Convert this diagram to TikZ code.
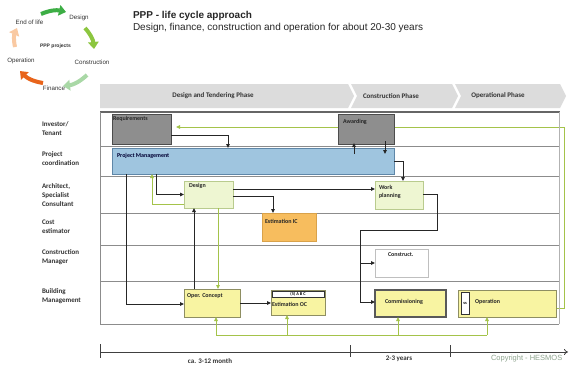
\documentclass[tikz,border=0pt]{standalone}
\usepackage{fontspec}
\setmainfont{Carlito}
\newfontfamily\arialf{Liberation Sans}
\usetikzlibrary{arrows.meta,backgrounds}
\definecolor{grn}{HTML}{A4C34A}
\definecolor{lanegray}{HTML}{8C8C8C}
\definecolor{boxgray}{HTML}{8E8E8E}
\definecolor{pmfill}{HTML}{9FC5DF}
\definecolor{pmborder}{HTML}{5F87A8}
\definecolor{palefill}{HTML}{EEF6D2}
\definecolor{paleborder}{HTML}{B9CB8E}
\definecolor{orfill}{HTML}{F7BD5E}
\definecolor{orborder}{HTML}{D9A24A}
\definecolor{yelfill}{HTML}{F8F4A2}
\definecolor{yelborder}{HTML}{8E8E62}
\definecolor{bannerfill}{HTML}{DCDCDC}
\definecolor{cgreen}{HTML}{3DAE45}
\definecolor{clight}{HTML}{8CC63F}
\definecolor{cpale}{HTML}{A9D8A6}
\definecolor{corange}{HTML}{E8641B}
\definecolor{cpeach}{HTML}{F9C9A2}
\definecolor{copyc}{HTML}{8FA58F}
\begin{document}
\begin{tikzpicture}[x=1pt,y=-1pt,
  every node/.style={inner sep=0pt, outer sep=0pt},
  lane/.style={draw=lanegray, line width=1pt},
  grayb/.style={draw=black!70, fill=boxgray, line width=0.9pt},
  blueb/.style={draw=pmborder, fill=pmfill, line width=0.9pt},
  paleb/.style={draw=paleborder, fill=palefill, line width=0.8pt},
  orb/.style={draw=orborder, fill=orfill, line width=0.8pt},
  yelb/.style={draw=yelborder, fill=yelfill, line width=0.9pt},
  whiteb/.style={draw=black!25, fill=white, line width=0.9pt},
  btxt/.style={font=\bfseries\fontsize{6}{7.5}\selectfont, anchor=west, align=left, text=black!85},
  rowlbl/.style={font=\bfseries\fontsize{7}{9}\selectfont, anchor=west, align=left, text=black!80},
  phtxt/.style={font=\bfseries\fontsize{7}{8}\selectfont, text=black!80},
  cyctxt/.style={font=\arialf\fontsize{6.2}{7}\selectfont, text=black!80},
  blkl/.style={draw=black!85, line width=1pt},
  blk/.style={blkl, -{Triangle[length=4pt,width=3.6pt]}},
  gln/.style={draw=grn, line width=1pt},
  gar/.style={gln, -{Triangle[length=4pt,width=3.6pt]}},
  cyc/.style={line width=4pt, -{Triangle[length=7pt,width=10.5pt]}, bend left=18}
]
\useasboundingbox (0,0) rectangle (569,365);
\begin{scope}[on background layer]
\fill[white] (0,0) rectangle (569,365);
\end{scope}

% ---------- life cycle ----------
\node[cyctxt] (eol) at (29.5,22.5) {End of life};
\node[cyctxt] (cdes) at (79,18) {Design};
\node[cyctxt] (ccon) at (92,62) {Construction};
\node[cyctxt] (cfin) at (54,88) {Finance};
\node[cyctxt] (cop) at (21,61) {Operation};
\node[font=\arialf\bfseries\fontsize{5}{6}\selectfont, text=black!80] (cppp) at (55.5,46) {PPP projects};
\coordinate (a1) at (41,14); \coordinate (a2) at (66,12);
\coordinate (b1) at (85,28); \coordinate (b2) at (94,49);
\coordinate (c1) at (87,75); \coordinate (c2) at (63,86);
\coordinate (d1) at (43,83); \coordinate (d2) at (20,71);
\coordinate (e1) at (15,47); \coordinate (e2) at (17,28);
\draw[cyc, draw=cgreen, fill=cgreen] (a1) to (a2);
\draw[cyc, draw=clight, fill=clight] (b1) to (b2);
\draw[cyc, draw=cpale, fill=cpale] (c1) to (c2);
\draw[cyc, draw=corange, fill=corange] (d1) to (d2);
\draw[cyc, draw=cpeach, fill=cpeach] (e1) to (e2);

% ---------- title ----------
\node[font=\arialf\bfseries\fontsize{10}{12}\selectfont, anchor=west, text=black!85] (title) at (133,16) {PPP - life cycle approach};
\node[font=\arialf\fontsize{10}{12}\selectfont, anchor=west, text=black!85] (subtitle) at (133,28) {Design, finance, construction and operation for about 20-30 years};

% ---------- phase banner ----------
\fill[bannerfill] (100,84) -- (348,84) -- (354,96) -- (348,108) -- (100,108) -- cycle;
\fill[bannerfill] (351,84) -- (452,84) -- (458,96) -- (452,108) -- (351,108) -- (357,96) -- cycle;
\fill[bannerfill] (455,84) -- (560,84) -- (566,96) -- (560,108) -- (455,108) -- (461,96) -- cycle;
\node[phtxt] (ph1) at (213,96) {Design and Tendering Phase};
\node[phtxt] (ph2) at (391,96) {Construction Phase};
\node[phtxt] (ph3) at (498,96) {Operational Phase};

% ---------- swimlanes ----------
\draw[draw=black!60, line width=1.5pt] (100,112) -- (560,112);
\foreach \yy in {146,176,213,245,281,324} \draw[lane] (100,\yy) -- (559,\yy);
\draw[lane] (100,112) -- (100,324);
\draw[draw=black!30, line width=0.8pt] (559,112) -- (559,324);

\node[rowlbl] (r1) at (42,129) {Investor/\\Tenant};
\node[rowlbl] (r2) at (42,159) {Project\\coordination};
\node[rowlbl] (r3) at (42,195) {Architect,\\Specialist\\Consultant};
\node[rowlbl] (r4) at (42,227) {Cost\\estimator};
\node[rowlbl] (r5) at (42,257.5) {Construction\\Manager};
\node[rowlbl] (r6) at (42,296.5) {Building\\Management};

% ---------- boxes ----------
\node[grayb, minimum width=59pt, minimum height=30pt] (req) at (141.5,129) {};
\node[grayb, minimum width=56pt, minimum height=30pt] (awd) at (366,129) {};
\node[blueb, minimum width=282pt, minimum height=26pt] (pm) at (253,161) {};
\node[paleb, minimum width=49pt, minimum height=27pt] (des) at (208.5,194.5) {};
\node[paleb, minimum width=48pt, minimum height=28pt] (wp) at (399,195) {};
\node[orb, minimum width=54pt, minimum height=28pt] (eic) at (289,227) {};
\node[whiteb, minimum width=53pt, minimum height=28pt] (con) at (401.5,263) {};
\node[yelb, minimum width=56pt, minimum height=28pt] (oc) at (212,303) {};
\node[yelb, minimum width=54pt, minimum height=25pt] (eoc) at (298,302.5) {};
\node[yelb, line width=1.1pt, draw=black!65, minimum width=71pt, minimum height=27pt] (com) at (410.5,303.5) {};
\node[yelb, minimum width=98pt, minimum height=27pt] (op) at (507,303.5) {};
\node[draw=black!80, fill=white, line width=0.8pt, minimum width=52pt, minimum height=6pt] (eocsub) at (298,294) {};
\node[draw=black!80, fill=white, line width=0.8pt, minimum width=8pt, minimum height=22pt] (opsub) at (465,303) {};

% ---------- box texts ----------
\node[btxt] (reqT) at (113,119) {Requirements};
\node[btxt] (awdT) at (343,122) {Awarding};
\node[btxt, text=black!80!blue] (pmT) at (117,156) {Project Management};
\node[btxt] (desT) at (189,186) {Design};
\node[btxt] (wpT) at (379,192) {Work\\planning};
\node[btxt] (eicT) at (265,221) {Estimation IC};
\node[btxt] (conT) at (388,255) {Construct.};
\node[btxt] (ocT) at (187,296) {Oper. Concept};
\node[btxt] (eocT) at (272,304) {Estimation OC};
\node[font=\bfseries\fontsize{4.3}{4.5}\selectfont] (eocsubT) at (eocsub) {(5) A B C};
\node[btxt] (comT) at (385,302) {Commissioning};
\node[btxt] (opT) at (475,302) {Operation};
\node[font=\bfseries\fontsize{4.3}{4.5}\selectfont] (opsubT) at (opsub) {ss};

% ---------- green feedback loop behind boxes ----------
\coordinate (r1c) at (564,127);
\coordinate (t1c) at (176,127);
\begin{scope}[on background layer]
\draw[gar] ([yshift=-4.5pt]op.east) -| (r1c) -- (t1c);
\end{scope}

% ---------- black connectors ----------
\draw[blk] ([yshift=-6pt]req.east) -| ([xshift=-25pt]pm.north);
\draw[blk] ([xshift=-97pt]pm.south) |- (des.west);
\draw[blk] ([xshift=-127pt]pm.south) |- ([yshift=-1pt]oc.west);
\coordinate (dd1) at ([yshift=5.5pt]des.east);
\draw[blk] (dd1) -- (dd1 -| wp.west);
\draw[blk] ([yshift=-1.5pt]des.east) -| ([xshift=-16pt]eic.north);
\coordinate (oo1) at ([xshift=-18pt]oc.north);
\draw[blk] (oo1) -- (oo1 |- des.south);
\draw[blk] (oc.east) -- (oc.east -| eoc.west);
\draw[blk] (pm.east) -| ([xshift=4pt]wp.north);
\draw[blk] ([xshift=-12pt,yshift=-10pt]awd.south) -- ([xshift=-12pt,yshift=1pt]awd.south);
\draw[blk] ([xshift=19pt,yshift=3pt]awd.south) -- ([xshift=19pt,yshift=-10pt]awd.south);
\coordinate (w2) at (437,230);
\coordinate (w3) at (360,230);
\draw[blk] ([yshift=1pt]wp.east) -| (w2) -- (w3) |- ([yshift=1.5pt]com.west);
\draw[blk] (w3) |- (con.west);

% ---------- green connectors ----------
\draw[gar] ([yshift=-9.5pt]des.west) -| ([xshift=-101pt]pm.south);
\coordinate (gg2) at ([xshift=9.5pt]des.south);
\draw[gar] (gg2) -- (gg2 |- oc.north);
\coordinate (bb1) at (216,335);
\coordinate (bb2) at (287,335);
\coordinate (bb3) at (398,335);
\coordinate (bb4) at (487,335);
\draw[gln] (bb1) -- (bb4);
\draw[gar] (bb1) -- (bb1 |- oc.south);
\draw[gar] (bb2) -- (bb2 |- eoc.south);
\draw[gar] (bb3) -- (bb3 |- com.south);
\draw[gar] (bb4) -- (bb4 |- op.south);

% ---------- timeline ----------
\coordinate (tl0) at (100,352);
\coordinate (tl1) at (568,352);
\draw[draw=black!75, line width=0.8pt, -{To[length=4pt,width=6pt]}] (tl0) -- (tl1);
\draw[draw=black!75, line width=0.8pt] (100,344) -- (100,358);
\draw[draw=black!75, line width=0.8pt] (350,345) -- (350,357);
\draw[draw=black!75, line width=0.8pt] (450,345) -- (450,357);
\node[phtxt] (tt1) at (210,361) {ca. 3-12 month};
\node[phtxt] (tt2) at (399,359) {2-3 years};
\node[font=\arialf\fontsize{7.5}{9}\selectfont, text=copyc, anchor=west] (copy) at (491,359) {Copyright - HESMOS};
\end{tikzpicture}
\end{document}
